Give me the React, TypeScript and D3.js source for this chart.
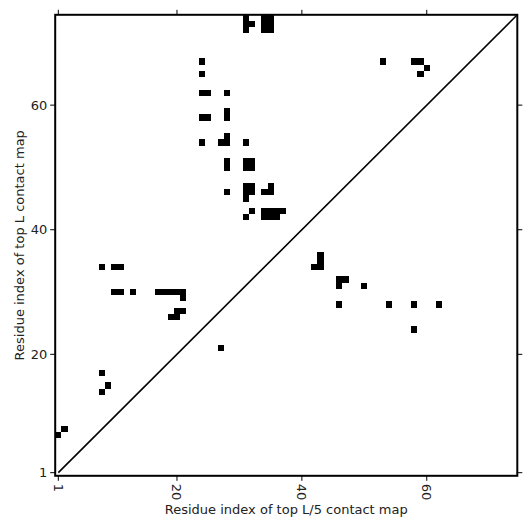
import * as d3 from "d3";
import React from "react";

// contacts of the top L/5 map: residue i (x) and residue j (y)
const contactI = [
  1, 2, 8, 9, 8,
  27,
  19, 20, 20, 21, 21,
  17, 18, 19, 20, 21, 10, 11, 13,
  8, 10, 11,
  43, 43, 43, 42,
  46, 47, 46, 50,
  46, 54, 58, 62, 58,
  31, 32, 34, 35, 36, 37, 34, 35, 36,
  31, 32, 31, 32, 35, 34, 35, 31, 28,
  28, 31, 32, 28, 31, 32,
  24, 27, 28, 28, 31,
  24, 25, 28, 28, 24, 25, 28,
  24, 24,
  31, 31, 31, 32, 34, 34, 34, 35, 35, 35,
  53, 58, 59, 60, 59,
];
const contactJ = [
  7, 8, 17, 15, 14,
  21,
  26, 26, 27, 27, 29,
  30, 30, 30, 30, 30, 30, 30, 30,
  34, 34, 34,
  36, 35, 34, 34,
  32, 32, 31, 31,
  28, 28, 28, 28, 24,
  42, 43, 43, 43, 43, 43, 42, 42, 42,
  47, 47, 46, 46, 47, 46, 46, 45, 46,
  51, 51, 51, 50, 50, 50,
  54, 54, 54, 55, 54,
  58, 58, 58, 59, 62, 62, 62,
  65, 67,
  74, 73, 72, 73, 74, 73, 72, 74, 73, 72,
  67, 67, 67, 66, 65,
];
const seqLength = 74;
const tickValues = [1, 20, 40, 60];

export default function App() {
  const x = d3.scaleLinear().domain([0.5, seqLength + 0.5]).range([55.2, 517.3]);
  const y = d3.scaleLinear().domain([0.5, seqLength + 0.5]).range([475.8, 14.8]);
  const [x0, x1] = x.range();
  const [y0, y1] = y.range();
  const font = "'DejaVu Sans', sans-serif";

  const cells = contactI.map((i, k) => ({ i, j: contactJ[k] }));

  return (
    <svg width={531} height={531} style={{ position: "absolute", left: 0, top: 0, background: "#fff" }}>
      {cells.map((c, k) => (
        <rect
          key={k}
          x={x(c.i - 0.5)}
          y={y(c.j + 0.5)}
          width={x(c.i + 0.5) - x(c.i - 0.5)}
          height={y(c.j - 0.5) - y(c.j + 0.5)}
          fill="#000"
          shapeRendering="crispEdges"
        />
      ))}
      <line x1={x(1)} y1={y(1)} x2={x(seqLength + 0.5)} y2={y(seqLength + 0.5)} stroke="#000" strokeWidth={1.6} />
      <rect x={x0} y={y1} width={x1 - x0} height={y0 - y1} fill="none" stroke="#000" strokeWidth={2} />

      {tickValues.map((t) => (
        <g key={"x" + t}>
          <line x1={x(t)} x2={x(t)} y1={y0} y2={y0 + 5} stroke="#000" strokeWidth={1} />
          <line x1={x(t)} x2={x(t)} y1={y1} y2={y1 - 5} stroke="#000" strokeWidth={1} />
          <text
            transform={`translate(${x(t)},${y0 + 8}) rotate(90)`}
            dy="0.35em"
            fontFamily={font}
            fontSize={13}
            fill="#222"
          >
            {t}
          </text>
        </g>
      ))}
      {tickValues.map((t) => (
        <g key={"y" + t}>
          <line x1={x0} x2={x0 - 5} y1={y(t)} y2={y(t)} stroke="#000" strokeWidth={1} />
          <line x1={x1} x2={x1 + 5} y1={y(t)} y2={y(t)} stroke="#000" strokeWidth={1} />
          <text x={x0 - 8} y={y(t)} dy="0.35em" textAnchor="end" fontFamily={font} fontSize={13} fill="#222">
            {t}
          </text>
        </g>
      ))}

      <text x={(x0 + x1) / 2 - 0} y={514} textAnchor="middle" fontFamily={font} fontSize={13} fill="#222">
        Residue index of top L/5 contact map
      </text>
      <text
        transform={`translate(24,${(y0 + y1) / 2}) rotate(-90)`}
        textAnchor="middle"
        fontFamily={font}
        fontSize={13}
        fill="#222"
      >
        Residue index of top L contact map
      </text>
    </svg>
  );
}
